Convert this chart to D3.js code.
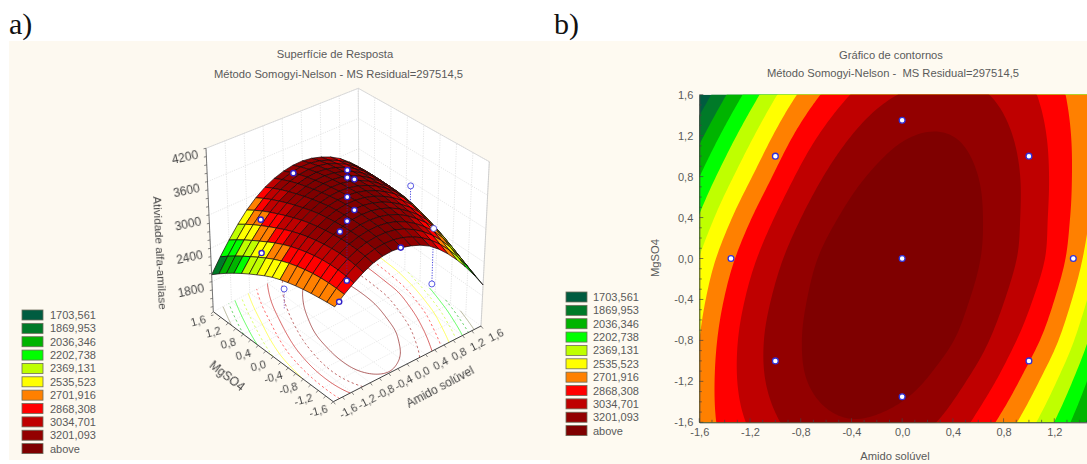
<!DOCTYPE html>
<html><head><meta charset="utf-8">
<script src="https://cdn.jsdelivr.net/npm/d3@7"></script>
<style>
html,body{margin:0;padding:0;background:#fff}
svg{display:block}
text{font-family:"Liberation Sans",Arial,sans-serif;fill:#5a5a5a;white-space:pre}
</style></head><body>
<svg id="c" width="1087" height="464"></svg>
<script>
// ---------- data ----------
const gridAmido = [-1.6,-1.2,-0.8,-0.4,0,0.4,0.8,1.2,1.6];
const gridMgSO4 = [1.6,1.2,0.8,0.4,0,-0.4,-0.8,-1.2,-1.6];
const gridAtividade = [
 [1570,2110,2565,2875,3045,3090,2995,2775,2380],
 [1820,2330,2757,3035,3185,3200,3070,2820,2410],
 [2033,2517,2908,3155,3269,3258,3111,2833,2409],
 [2216,2687,3032,3244,3329,3287,3117,2823,2386],
 [2374,2819,3126,3309,3360,3291,3100,2798,2280],
 [2472,2905,3176,3327,3356,3260,3042,2704,2150],
 [2536,2952,3197,3321,3323,3205,2950,2576,1980],
 [2574,2949,3181,3279,3255,3096,2815,2393,1810],
 [2595,2890,3110,3192,3132,2965,2642,2200,1650]
];
const levels = [1703.561,1869.953,2036.346,2202.738,2369.131,2535.523,2701.916,2868.308,3034.701,3201.093];
const legendLabels = ["1703,561","1869,953","2036,346","2202,738","2369,131","2535,523","2701,916","2868,308","3034,701","3201,093","above"];
const bandColors = ["#005c40","#007a28","#00b400","#00ff00","#bfff00","#ffff00","#ff8000","#ff0000","#bf0000","#930000","#7f0000"];
const ptAmido  = [-1,-1, 1, 1,-1,-1, 1, 1,-1.35,1.35, 0, 0, 0, 0, 0, 0, 0];
const ptMgSO4  = [-1,-1,-1,-1, 1, 1, 1, 1, 0, 0,-1.35,1.35, 0, 0, 0, 0, 0];
const ptAtiv   = [2147,3520,2765,1616,2770,2075,2740,2060,2034,2985,2975,3135,3887,3734,3330,2830,1592];
const ptHollow = [0,0,1,1,0,0,0,0,1,1,0,0,0,0,0,0,0];
const axisTicks = [-1.6,-1.2,-0.8,-0.4,0,0.4,0.8,1.2,1.6];
const zTicks = [1800,2400,3000,3600,4200];

// ---------- helpers ----------
const comma = v => d3.format(".1f")(v).replace(".",",").replace("\u2212","-");
const colorOf = d3.scaleThreshold().domain(levels).range(bandColors);
const svg = d3.select("#c");
svg.append("defs").append("filter").attr("id","soft").attr("x","-10%").attr("y","-30%").attr("width","120%").attr("height","160%")
   .append("feGaussianBlur").attr("stdDeviation",0.35);

// smooth evaluation of the read table (blend of neighbouring parabolas)
function q1(a,i,t){ const s=t-i; return a(i)+s*(a(i+1)-a(i-1))/2+s*s*(a(i+1)+a(i-1)-2*a(i))/2; }
function interp1(a,n,t){
  const i=Math.min(Math.max(Math.floor(t),0),n-2), f=t-i;
  const lo=i>=1?q1(a,i,t):null, hi=i+1<=n-2?q1(a,i+1,t):null;
  if(lo===null) return hi; if(hi===null) return lo;
  return lo*(1-f)+hi*f;
}
const colPos = d3.scaleLinear().domain([-1.6,1.6]).range([0,8]);
const rowPos = d3.scaleLinear().domain([1.6,-1.6]).range([0,8]);
function surf(x,y){
  const cx=colPos(x), cy=rowPos(y);
  return interp1(r=>interp1(c=>gridAtividade[r][c],9,cx),9,cy);
}

// backgrounds
svg.append("rect").attr("x",9).attr("y",41).attr("width",541).attr("height",419).attr("fill","#fdf9f0");
svg.append("rect").attr("x",550).attr("y",41).attr("width",537).attr("height",423).attr("fill","#fefaf1");

// panel letters
svg.append("text").attr("x",9).attr("y",34).text("a)").style("font-family","'Liberation Serif',serif").style("font-size","30px").style("fill","#111");
svg.append("text").attr("x",554).attr("y",34).text("b)").style("font-family","'Liberation Serif',serif").style("font-size","30px").style("fill","#111");

function title(cx,y,t){ svg.append("text").attr("x",cx).attr("y",y).attr("text-anchor","middle").style("font-size","11.2px").text(t); }
title(335,58,"Superfície de Resposta");
title(338.5,78,"Método Somogyi-Nelson - MS Residual=297514,5");
title(891,59,"Gráfico de contornos");
title(893,77,"Método Somogyi-Nelson -  MS Residual=297514,5");

function legend(x,y0,tx){
  const g=svg.append("g");
  legendLabels.forEach((t,i)=>{
    const y=y0+i*13.36;
    g.append("rect").attr("x",x).attr("y",y-5).attr("width",21).attr("height",10).attr("fill",bandColors[i]).attr("stroke","#6b6b5a").attr("stroke-width",.8);
    g.append("text").attr("x",tx).attr("y",y+4).style("font-size","11px").text(t);
  });
}
legend(22,315,50);
legend(566,297,593);

// ---------- fine resampled grid for contouring ----------
const N=129, step=3.2/(N-1);
const fine=new Float64Array(N*N);
for(let j=0;j<N;j++)for(let i=0;i<N;i++) fine[j*N+i]=surf(-1.6+i*step,-1.6+j*step);
const contourSets=d3.contours().size([N,N]).thresholds(levels)(fine);
const dataOf = c => -1.6+(c-0.5)*step;

// ---------- panel b ----------
const xB=d3.scaleLinear().domain([-1.6,1.6]).range([699.3,1105]);
const yB=d3.scaleLinear().domain([-1.6,1.6]).range([422.3,94.7]);
const clip=svg.select("defs").append("clipPath").attr("id","pb");
clip.append("rect").attr("x",xB(-1.6)).attr("y",yB(1.6)).attr("width",xB(1.6)-xB(-1.6)).attr("height",yB(-1.6)-yB(1.6));
const gB=svg.append("g").attr("clip-path","url(#pb)");
gB.append("rect").attr("x",xB(-1.6)).attr("y",yB(1.6)).attr("width",xB(1.6)-xB(-1.6)).attr("height",yB(-1.6)-yB(1.6)).attr("fill",bandColors[0]);
const pathB=d3.geoPath(d3.geoTransform({point(a,b){this.stream.point(xB(dataOf(a)),yB(dataOf(b)));}}));
contourSets.forEach((c,i)=>{ gB.append("path").attr("d",pathB(c)).attr("fill",bandColors[i+1]); });

const axL=d3.axisLeft(yB).tickValues(axisTicks).tickFormat(comma).tickSize(0).tickPadding(6);
const axB=d3.axisBottom(xB).tickValues(axisTicks.filter(v=>xB(v)<1087)).tickFormat(comma).tickSize(0).tickPadding(6);
const gL=svg.append("g").attr("transform",`translate(${xB(-1.6)},0)`).call(axL);
const gX=svg.append("g").attr("transform",`translate(0,${yB(-1.6)})`).call(axB);
[gL,gX].forEach(g=>{g.selectAll("text").style("font-size","11px");g.select(".domain").attr("stroke","#444").attr("stroke-width",1);});
d3.range(-16,17,1).forEach(k=>{
  const v=k/10, big=k%4===0, len=big?4:2.5;
  svg.append("line").attr("x1",xB(-1.6)).attr("x2",xB(-1.6)+len).attr("y1",yB(v)).attr("y2",yB(v)).attr("stroke","#444").attr("stroke-width",.7);
  if(xB(v)<1087) svg.append("line").attr("x1",xB(v)).attr("x2",xB(v)).attr("y1",yB(-1.6)).attr("y2",yB(-1.6)-len).attr("stroke","#444").attr("stroke-width",.7);
});
svg.append("text").attr("x",895).attr("y",460).attr("text-anchor","middle").style("font-size","11.2px").text("Amido solúvel");
svg.append("text").attr("transform","translate(659,258) rotate(-90)").attr("text-anchor","middle").style("font-size","11.2px").text("MgSO4");

const seen=new Set();
ptAmido.forEach((x,i)=>{
  const k=x+"|"+ptMgSO4[i]; if(seen.has(k)) return; seen.add(k);
  svg.append("circle").attr("cx",xB(x)).attr("cy",yB(ptMgSO4[i])).attr("r",2.9).attr("fill","#fff").attr("stroke","#3030d8").attr("stroke-width",1.3);
});

// ---------- panel a: perspective box ----------
const uS=d3.scaleLinear().domain([-1.6,1.6]).range([0,1]);
const vS=d3.scaleLinear().domain([-1.6,1.6]).range([0,1]);
const wS=d3.scaleLinear().domain([800,4200]).range([0,1]);      // height of the marks
const wTick=d3.scaleLinear().domain([1260,4200]).range([0,1]);  // height of the axis ticks
const F0=[333.3,401.7],R0=[481,326],L0=[213.3,311.7],B0=[359,236];
const F1=[336,222],R1=[489.3,161.7],L1=[206,148.3],B1=[358.3,88.3];
function bil(a,b,c,d,u,v,k){ return (1-u)*(1-v)*a[k]+u*(1-v)*b[k]+(1-u)*v*c[k]+u*v*d[k]; }
function projUVW(u,v,w){
  return [0,1].map(k=>{
    const lo=bil(F0,R0,L0,B0,u,v,k), hi=bil(F1,R1,L1,B1,u,v,k);
    return lo+(hi-lo)*w;
  });
}
const proj=(x,y,z)=>projUVW(uS(x),vS(y),wS(z));
const line=d3.line();
const gA=svg.append("g");

// box faces
gA.append("path").attr("d",line([L0,L1,B1,R1,R0,F0])+"Z").attr("fill","#fff").attr("stroke","none");
function seg(p,q,stroke,w,dash){
  const l=gA.append("path").attr("d",line([p,q])).attr("stroke",stroke).attr("stroke-width",w).attr("fill","none");
  if(dash) l.attr("stroke-dasharray",dash);
  return l;
}
const GRID="#dedede";
axisTicks.forEach(t=>{
  const a=uS(t), b=vS(t);
  seg(projUVW(a,1,0),projUVW(a,1,1),GRID,.8,"1.2 1.2");
  seg(projUVW(1,b,0),projUVW(1,b,1),GRID,.8,"1.2 1.2");
  seg(projUVW(a,0,0),projUVW(a,1,0),"#e6e6e6",.8,"1.2 1.2");
  seg(projUVW(0,b,0),projUVW(1,b,0),"#e6e6e6",.8,"1.2 1.2");
});
zTicks.forEach(z=>{
  const w=wTick(z);
  seg(projUVW(0,1,w),projUVW(1,1,w),GRID,.8,"1.2 1.2");
  seg(projUVW(1,1,w),projUVW(1,0,w),GRID,.8,"1.2 1.2");
});
seg(B0,B1,"#dcdcdc",.8);
seg(L1,B1,"#d4d4d4",.8); seg(B1,R1,"#d4d4d4",.8);
seg(R0,R1,"#c8c8c8",.8);

// floor contour lines
contourSets.forEach((c,i)=>{
  if(i===0) return;
  const stroke=i>=6?bandColors[i+1]:(i===1?"#8a8a60":bandColors[i]);
  const dash=(9-i)%2===1?"2.2 2.6":null;
  c.coordinates.forEach(poly=>poly.forEach(ring=>{
    const ln=d3.line().defined(p=>{
      const a=dataOf(p[0]),b=dataOf(p[1]);
      return a>=-1.6&&a<=1.6&&b>=-1.6&&b<=1.6;
    }).x(p=>projUVW(uS(dataOf(p[0])),vS(dataOf(p[1])),0)[0]).y(p=>projUVW(uS(dataOf(p[0])),vS(dataOf(p[1])),0)[1]);
    const el=gA.append("path").attr("d",ln(ring)).attr("fill","none").attr("stroke",stroke).attr("stroke-width",1).attr("stroke-opacity",.62);
    if(dash) el.attr("stroke-dasharray",dash);
  }));
});

// dotted drop lines behind the surface
[3,9].forEach(i=>{
  gA.append("path").attr("d",line([proj(ptAmido[i],ptMgSO4[i],ptAtiv[i]),proj(ptAmido[i],ptMgSO4[i],surf(ptAmido[i],ptMgSO4[i]))]))
    .attr("stroke","#4848e0").attr("stroke-width",1).attr("stroke-dasharray","1.2 1.4").attr("fill","none");
});
gA.append("path").attr("d",line([proj(ptAmido[8],ptMgSO4[8],ptAtiv[8]),proj(ptAmido[8],ptMgSO4[8],1630)]))
  .attr("stroke","#9a70c8").attr("stroke-width",1).attr("stroke-dasharray","1.2 1.4").attr("fill","none");

// surface, far cells first
const meshVals=d3.range(-1.6,1.6001,0.2).map(v=>+v.toFixed(1));
for(let a=meshVals.length-2;a>=0;a--){
  for(let b=meshVals.length-2;b>=0;b--){
    const x0=meshVals[a],x1=meshVals[a+1],y0=meshVals[b],y1=meshVals[b+1];
    const zs=[surf(x0,y0),surf(x1,y0),surf(x1,y1),surf(x0,y1)];
    gA.append("path").attr("d",line([proj(x0,y0,zs[0]),proj(x1,y0,zs[1]),proj(x1,y1,zs[2]),proj(x0,y1,zs[3])])+"Z")
      .attr("fill",colorOf(d3.mean(zs))).attr("stroke","#140808").attr("stroke-width",.7).attr("stroke-linejoin","round");
  }
}

// lines in front of the surface and points
gA.append("path").attr("d",line([proj(0,0,3887),proj(0,0,1592)])).attr("stroke","#3a2ad0").attr("stroke-width",.9).attr("stroke-dasharray","1.2 1.4").attr("stroke-opacity",.7).attr("fill","none");
ptAmido.forEach((x,i)=>{
  const p=proj(x,ptMgSO4[i],ptAtiv[i]), h=ptHollow[i];
  gA.append("circle").attr("cx",p[0]).attr("cy",p[1]).attr("r",h?3:2.6)
    .attr("fill",h?"#fdfdff":"#fff").attr("stroke",h?"#4a4ae0":"#3020c8").attr("stroke-width",h?.9:1.4);
});

// axes of the box
seg(L0,L1,"#666",.9); seg(L0,F0,"#444",1); seg(F0,R0,"#444",1);
function tickSeg(p,dx,dy){ gA.append("path").attr("d",line([p,[p[0]+dx,p[1]+dy]])).attr("stroke","#555").attr("stroke-width",.7); }
d3.range(-16,17,2).forEach(k=>{
  const v=k/10;
  tickSeg(projUVW(uS(v),0,0),2,2.6);
  tickSeg(projUVW(0,vS(v),0),-2.4,2.2);
});
d3.range(1200,4201,150).forEach(z=>{ tickSeg(projUVW(0,1,wTick(z)),-2.5,.5); });

function rotText(x,y,deg,t,size){
  gA.append("text").attr("filter","url(#soft)").attr("transform",`translate(${x},${y}) rotate(${deg})`).attr("text-anchor","middle").attr("dy","0.35em").style("font-size",size+"px").style("fill","#444").text(t);
}
axisTicks.forEach(t=>{
  const p=projUVW(uS(t),0,0); rotText(p[0]+15,p[1]+9,-27,comma(t),11);
  const q=projUVW(0,vS(t),0); rotText(q[0]-15,q[1]+9,-15,comma(t),11);
});
zTicks.forEach(z=>{
  const p=projUVW(0,1,wTick(z)); rotText(p[0]-21,p[1]+9,-12,String(z),12);
});
rotText(440,387,-28,"Amido solúvel",12);
rotText(227,376,38,"MgSO4",12);
rotText(160,253,87,"Atividade alfa-amilase",11.6);
</script>
</body></html>
